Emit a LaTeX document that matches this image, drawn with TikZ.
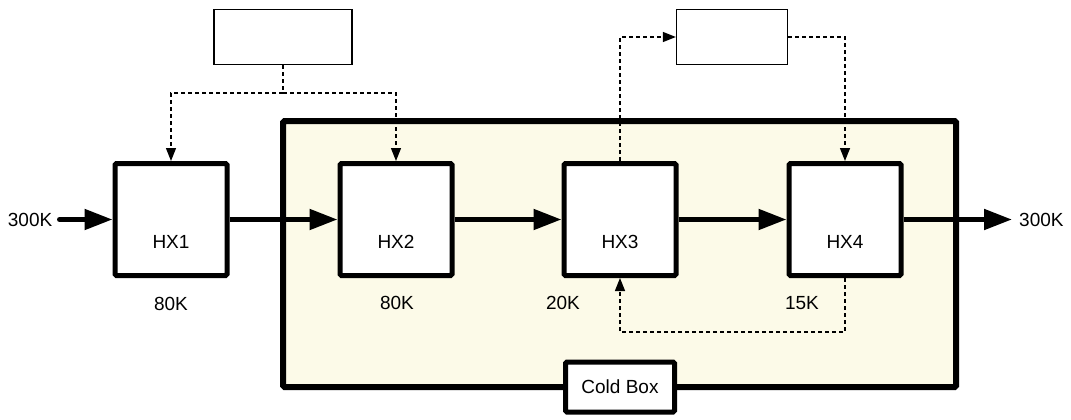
\documentclass[tikz,border=0pt]{standalone}
\usepackage{fontspec}
\setmainfont{Liberation Sans}
\usetikzlibrary{arrows.meta,positioning}
\definecolor{coldFill}{HTML}{FCFAE8}

\begin{document}
\begin{tikzpicture}[x=1pt,y=-1pt,>=Triangle,
  font=\fontsize{19}{22}\selectfont,
  hx/.style={draw,line width=5pt,fill=white,rounded corners=1.5pt,minimum width=112pt,minimum height=112pt,inner sep=0pt},
  unit/.style={draw,line width=1.3pt,fill=white,minimum width=#1,minimum height=55pt,inner sep=0pt},
  flow/.style={line width=5pt,-{Triangle[length=28pt,width=20pt]}},
  ctrl/.style={line width=1.4pt,dash pattern=on 4pt off 3pt,-{Triangle[length=13pt,width=10pt]}}]
  \useasboundingbox (0,0) rectangle (1071,420);
  % cold box
  \draw[line width=6pt,fill=coldFill,rounded corners=1.5pt] (283,121) rectangle (956,387);
  \node[draw,line width=5pt,fill=white,rounded corners=1.5pt,minimum width=109pt,minimum height=50pt] (cold) at (620,387) {Cold Box};
  % heat exchangers
  \foreach \i/\x in {1/171,2/396,3/620,4/845}
    \node[hx,label={[yshift=-22pt]center:HX\i}] (hx\i) at (\x,219.5) {};
  \node[unit=138pt] (unitA) at (283,37) {};
  \node[unit=111pt] (unitB) at (732,37) {};
  % temperatures
  \node (t1) at (171,304) {80K};
  \node (t2) at (397,303) {80K};
  \node (t3) at (563,303) {20K};
  \node (t4) at (802,303) {15K};
  \coordinate (in) at (59.5,219.5);
  \coordinate (out) at (1012,219.5);
  \node[left=7pt of in,inner sep=0pt] (tin) {300K};
  \node[right=7pt of out,inner sep=0pt] (tout) {300K};
  % main stream
  \draw[flow,line cap=round] (in) -- (hx1.west);
  \foreach \a/\b in {1/2,2/3,3/4}
    \draw[flow] (hx\a.east) -- (hx\b.west);
  \draw[flow] (hx4.east) -- (out);
  % dashed lines
  \draw[ctrl] (unitA.south) -- ++(0,28) -| (hx1.north);
  \draw[ctrl] (unitA.south) -- ++(0,28) -| (hx2.north);
  \draw[ctrl] (hx3.north) |- (unitB.west);
  \draw[ctrl] (unitB.east) -| (hx4.north);
  \draw[ctrl] (hx4.south) -- ++(0,54) -| (hx3.south);
\end{tikzpicture}
\end{document}
